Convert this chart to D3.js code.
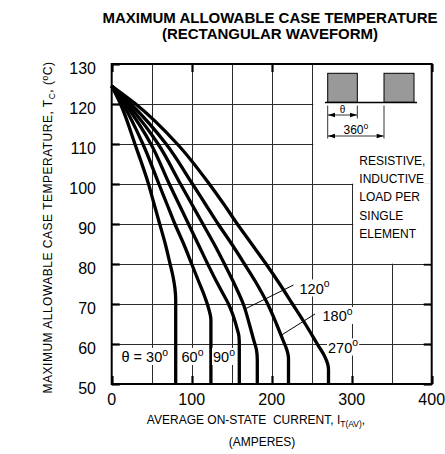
<!DOCTYPE html>
<html><head><meta charset="utf-8">
<script src="https://cdn.jsdelivr.net/npm/d3@7"></script>
<style>
body{margin:0;background:#fff}
svg{display:block;font-family:"Liberation Sans",Arial,Helvetica,sans-serif}
</style>
</head><body>
<svg id="c" width="445" height="454"></svg>
<script>
// ---- data ----
const xTickValues = [0, 100, 200, 300, 400];
const yTickValues = [50, 60, 70, 80, 90, 100, 110, 120, 130];
const xGridValues = [50, 100, 150, 200, 250, 300, 350];
const yGridValues = [60, 70, 80, 90, 100, 110, 120];
const angleLabels = ["30", "60", "90", "120", "180", "270"];
// [current A, case temperature °C]
const curve30  = [[0,124.5],[11,120],[29,110],[46,100],[53,95],[60,90],[67,85],[73,80],[76.5,77],[79,74],[80,71],[80,50]];
const curve60  = [[0,124.5],[14,120],[39,110],[59,100],[69,95],[79,90],[90,85],[100,80],[109,75.5],[116,72],[121,69],[124,66],[124,50]];
const curve90  = [[0,124.5],[17,120],[49,110],[72,100],[84,95],[96,90],[108,85],[120,80],[130,76],[138,73],[146,70],[152,67],[156.5,64],[159,62],[159.5,60],[159.5,50]];
const curve120 = [[0,124.5],[20,120],[58,110],[86,100],[100,95],[114,90],[128,85],[141,80],[151,76],[158,73],[164.5,70],[172,65],[177.5,61],[181,58.5],[182,56],[182,50]];
const curve180 = [[0,124.5],[24,120],[68,110],[101,100],[117,95],[133,90],[150,85],[166,80],[180,75.5],[195,70],[206,65],[214,61],[219,58.5],[221,56.5],[221,50]];
const curve270 = [[0,124.5],[30,120],[82,110],[122,100],[140,95],[157,90],[175,85],[193,80],[210,75],[226,70],[242,65],[257,60],[266,57],[270,55],[271,53.5],[271,50]];
const curves = [curve30, curve60, curve90, curve120, curve180, curve270];

const svg = d3.select("#c");
const x = d3.scaleLinear().domain([0, 400]).range([111.7, 431.7]);
const y = d3.scaleLinear().domain([50, 130]).range([384, 64]);
const px = v => Math.round(x(v)) + 0.5;
const py = v => Math.round(y(v)) + 0.5;

// title
const title = svg.append("g").attr("font-weight", "bold").attr("font-size", 15).attr("text-anchor", "middle");
title.append("text").attr("x", 270).attr("y", 23).text("MAXIMUM ALLOWABLE CASE TEMPERATURE");
title.append("text").attr("x", 270).attr("y", 39).text("(RECTANGULAR WAVEFORM)");

// grid
const grid = svg.append("g").attr("stroke", "#2a2a2a").attr("stroke-width", 1);
grid.selectAll(".gx").data(xGridValues).join("line")
  .attr("x1", d => px(d)).attr("x2", d => px(d)).attr("y1", y(130)).attr("y2", y(50));
grid.selectAll(".gy").data(yGridValues).join("line")
  .attr("y1", d => py(d)).attr("y2", d => py(d)).attr("x1", x(0)).attr("x2", x(400));

// inner ticks on all sides
const tk = svg.append("g").attr("stroke", "#000").attr("stroke-width", 2.2);
tk.selectAll(".tl").data(yTickValues).join("line")
  .attr("x1", x(0)).attr("x2", x(0) + 8).attr("y1", d => py(d)).attr("y2", d => py(d));
tk.selectAll(".tr").data(yTickValues).join("line")
  .attr("x1", x(400) - 8).attr("x2", x(400)).attr("y1", d => py(d)).attr("y2", d => py(d));
tk.selectAll(".tb").data(xTickValues).join("line")
  .attr("x1", d => px(d)).attr("x2", d => px(d)).attr("y1", y(50)).attr("y2", y(50) - 8);
tk.selectAll(".tt").data(xTickValues).join("line")
  .attr("x1", d => px(d)).attr("x2", d => px(d)).attr("y1", y(130)).attr("y2", y(130) + 8);

// white areas for the inset note
svg.append("rect").attr("x", px(250) + 0.8).attr("y", y(130)).attr("width", x(400) - px(250) - 0.8).attr("height", py(100) - y(130) - 0.8).attr("fill", "#fff");
svg.append("rect").attr("x", px(300) + 0.8).attr("y", py(100) - 1).attr("width", x(400) - px(300) - 0.8).attr("height", py(80) - py(100) + 0.2).attr("fill", "#fff");

// frame
svg.append("rect").attr("x", x(0)).attr("y", y(130)).attr("width", x(400) - x(0)).attr("height", y(50) - y(130))
  .attr("fill", "none").attr("stroke", "#000").attr("stroke-width", 2);

// axes tick labels
const axG = svg.append("g").attr("font-size", 16).attr("fill", "#000");
axG.selectAll(".xl").data(xTickValues).join("text")
  .attr("x", d => x(d)).attr("y", 405).attr("text-anchor", "middle").text(d => d);
axG.selectAll(".yl").data(yTickValues).join("text")
  .attr("x", 96).attr("y", d => y(d) + 10).attr("text-anchor", "end").text(d => d);

// axis titles
const yt = svg.append("text").attr("transform", "translate(51.5,227.5) rotate(-90)")
  .attr("text-anchor", "middle").attr("font-size", 12).attr("letter-spacing", 0.5);
yt.append("tspan").text("MAXIMUM ALLOWABLE CASE TEMPERATURE, T");
yt.append("tspan").attr("font-size", 8.5).attr("dy", 3).text("C");
yt.append("tspan").attr("dy", -3).text(", (");
yt.append("tspan").attr("font-size", 8.5).attr("dy", -4).text("o");
yt.append("tspan").attr("dy", 4).text("C)");

const xt = svg.append("g").attr("font-size", 12).attr("text-anchor", "middle");
const xt1 = xt.append("text").attr("x", 256).attr("y", 424).style("white-space", "pre");
xt1.append("tspan").text("AVERAGE ON-STATE  CURRENT, I");
xt1.append("tspan").attr("font-size", 8.5).attr("dy", 3).text("T(AV)");
xt1.append("tspan").attr("dy", -3).text(",");
xt.append("text").attr("x", 262).attr("y", 446).text("(AMPERES)");

// curves
const line = d3.line().x(d => x(d[0])).y(d => y(d[1])).curve(d3.curveMonotoneY);
svg.append("g").selectAll("path").data(curves).join("path")
  .attr("d", line).attr("fill", "none").attr("stroke", "#000").attr("stroke-width", 3.3)
  .attr("stroke-linejoin", "round");

// leader lines
const lead = svg.append("g").attr("stroke", "#000").attr("stroke-width", 1);
lead.append("line").attr("x1", 293.5).attr("y1", 285).attr("x2", x(166.6)).attr("y2", y(68.75));
lead.append("line").attr("x1", 315).attr("y1", 314).attr("x2", x(210.4)).attr("y2", y(62));

// degree labels with white background
function degLabel(xp, yb, main, size) {
  const g = svg.append("g");
  const t = g.append("text").attr("x", xp).attr("y", yb).attr("font-size", size);
  t.append("tspan").text(main);
  t.append("tspan").attr("font-size", size * 0.72).attr("dy", -size * 0.42).text("o");
  const b = t.node().getBBox();
  g.insert("rect", "text").attr("x", b.x - 1).attr("y", b.y + 1).attr("width", b.width + 2).attr("height", b.height - 1).attr("fill", "#fff");
}
degLabel(299.5, 293.5, angleLabels[3], 14.5);
degLabel(322.5, 321, angleLabels[4], 14.5);
degLabel(328, 352.5, angleLabels[5], 14.5);
degLabel(121.5, 362, "\u03b8 = " + angleLabels[0], 14.5);
degLabel(181.5, 362, angleLabels[1], 14.5);
degLabel(213, 362, angleLabels[2], 14.5);

// inset waveform sketch
const ins = svg.append("g");
ins.append("rect").attr("x", 327.7).attr("y", 73.3).attr("width", 29.6).attr("height", 29).attr("fill", "#999").attr("stroke", "#000").attr("stroke-width", 1);
ins.append("rect").attr("x", 384).attr("y", 73.3).attr("width", 30).attr("height", 29).attr("fill", "#999").attr("stroke", "#000").attr("stroke-width", 1);
ins.append("line").attr("x1", 325).attr("x2", 417).attr("y1", 102.5).attr("y2", 102.5).attr("stroke", "#000").attr("stroke-width", 1.6);
const dim = ins.append("g").attr("stroke", "#000").attr("stroke-width", 0.8);
dim.append("line").attr("x1", 327.7).attr("x2", 327.7).attr("y1", 105.5).attr("y2", 138.5);
dim.append("line").attr("x1", 357.3).attr("x2", 357.3).attr("y1", 105.5).attr("y2", 118.5);
dim.append("line").attr("x1", 384).attr("x2", 384).attr("y1", 105.5).attr("y2", 138.5);
dim.append("line").attr("x1", 328).attr("x2", 357).attr("y1", 115).attr("y2", 115);
dim.append("line").attr("x1", 328).attr("x2", 383.7).attr("y1", 136).attr("y2", 136);
function arrow(xt, yt, dir) {
  ins.append("path").attr("d", `M${xt},${yt} L${xt + dir * 7},${yt - 2.2} L${xt + dir * 7},${yt + 2.2} Z`).attr("fill", "#000");
}
arrow(328, 115, 1); arrow(357, 115, -1); arrow(328, 136, 1); arrow(383.7, 136, -1);
ins.append("text").attr("x", 342.5).attr("y", 112.5).attr("font-size", 10).attr("text-anchor", "middle").text("\u03b8");
const t360 = ins.append("text").attr("x", 343.5).attr("y", 133.5).attr("font-size", 12);
t360.append("tspan").text("360");
t360.append("tspan").attr("font-size", 8.5).attr("dy", -5).text("o");

const noteLines = ["RESISTIVE,", "INDUCTIVE", "LOAD PER", "SINGLE", "ELEMENT"];
ins.selectAll(".note").data(noteLines).join("text")
  .attr("x", 359.3).attr("y", (d, i) => 164.5 + i * 18.35).attr("font-size", 12).text(d => d);
</script>
</body></html>
